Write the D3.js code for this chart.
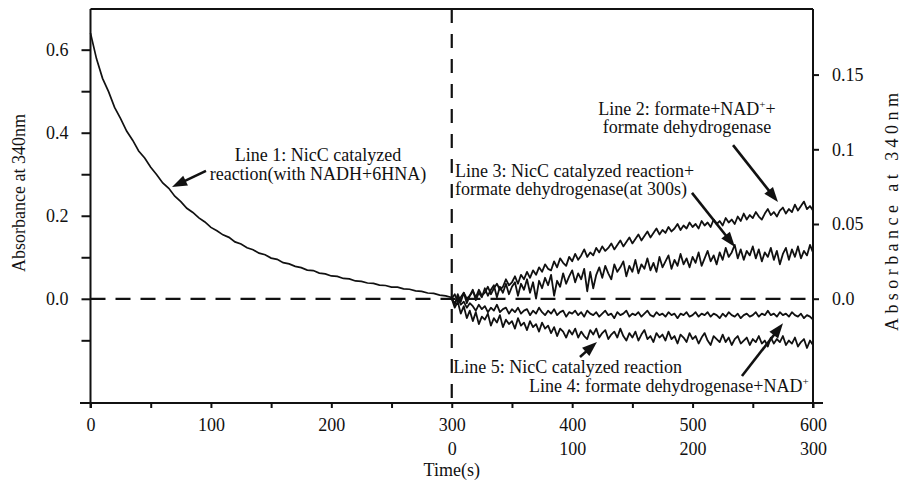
<!DOCTYPE html>
<html><head><meta charset="utf-8">
<script src="https://cdn.jsdelivr.net/npm/d3@7"></script>
<style>
body{margin:0;background:#fff}
svg{display:block}
svg text{font-family:"Liberation Serif","DejaVu Serif","Times New Roman",serif !important;fill:#111;font-size:18px}
</style>
</head><body><svg id="c" width="903" height="484" font-family="Liberation Serif, DejaVu Serif, serif"></svg>
<script>
// ---- DATA ----
const timeLeft = d3.range(0, 301, 5);            // s, Line 1 (0-300 s)
const line1 = [0.640,0.578,0.531,0.499,0.461,0.434,0.404,0.382,0.356,0.339,
0.317,0.299,0.279,0.266,0.247,0.234,0.218,0.208,0.195,0.185,
0.172,0.164,0.154,0.148,0.137,0.132,0.123,0.118,0.110,0.106,
0.098,0.095,0.087,0.084,0.078,0.075,0.069,0.068,0.062,0.060,
0.055,0.054,0.049,0.048,0.043,0.042,0.038,0.037,0.033,0.032,
0.028,0.028,0.024,0.023,0.019,0.018,0.014,0.013,0.009,0.007,0.003];

const timeRight = d3.range(0, 300.1, 2.5);       // s on secondary axis (0-300)
const line2 = [0.000,0.003,-0.002,0.001,0.004,0.000,0.002,0.005,0.001,0.006,
0.002,0.004,0.008,0.003,0.007,0.010,0.006,0.008,0.013,0.009,
0.011,0.015,0.010,0.016,0.013,0.018,0.014,0.019,0.016,0.021,
0.018,0.023,0.020,0.019,0.025,0.021,0.027,0.024,0.022,0.028,
0.025,0.030,0.026,0.029,0.033,0.028,0.031,0.029,0.034,0.031,
0.035,0.032,0.034,0.037,0.033,0.036,0.039,0.035,0.038,0.041,
0.037,0.040,0.043,0.039,0.042,0.045,0.041,0.044,0.047,0.043,
0.046,0.044,0.048,0.045,0.047,0.050,0.046,0.049,0.047,0.051,
0.048,0.050,0.047,0.052,0.049,0.051,0.048,0.053,0.050,0.052,
0.049,0.054,0.051,0.053,0.050,0.055,0.052,0.057,0.053,0.056,
0.054,0.058,0.055,0.053,0.057,0.060,0.056,0.058,0.055,0.059,
0.061,0.057,0.060,0.058,0.063,0.059,0.062,0.065,0.060,0.062,0.059];
const line3 = [0.000,-0.004,0.003,-0.002,0.004,-0.003,0.002,0.006,-0.001,0.004,
0.001,0.007,0.002,0.006,0.009,0.001,0.008,0.004,0.010,0.003,
0.008,0.011,0.002,0.010,0.006,0.013,0.004,0.011,0.000,0.012,
0.007,0.014,0.009,0.016,0.002,0.012,0.008,0.017,0.010,0.015,
0.019,0.011,0.017,0.013,0.020,0.005,0.018,0.007,0.016,0.021,
0.014,0.022,0.017,0.013,0.023,0.018,0.021,0.025,0.015,0.022,
0.018,0.026,0.017,0.023,0.020,0.027,0.019,0.024,0.018,0.028,
0.021,0.025,0.029,0.020,0.026,0.022,0.030,0.023,0.027,0.021,
0.028,0.024,0.031,0.022,0.027,0.032,0.025,0.029,0.023,0.031,
0.026,0.034,0.028,0.031,0.036,0.027,0.033,0.026,0.032,0.029,
0.035,0.027,0.033,0.025,0.031,0.028,0.034,0.026,0.032,0.023,
0.030,0.034,0.026,0.033,0.028,0.035,0.027,0.032,0.029,0.036,0.031];
const line4 = [0.000,-0.003,0.001,-0.004,-0.002,-0.006,-0.003,-0.005,-0.008,-0.004,
-0.007,-0.005,-0.009,-0.006,-0.008,-0.004,-0.009,-0.007,-0.006,-0.010,
-0.007,-0.009,-0.006,-0.010,-0.008,-0.007,-0.011,-0.008,-0.010,-0.006,
-0.009,-0.011,-0.008,-0.010,-0.007,-0.011,-0.009,-0.008,-0.012,-0.009,
-0.010,-0.008,-0.011,-0.009,-0.012,-0.008,-0.010,-0.011,-0.009,-0.012,
-0.010,-0.008,-0.011,-0.010,-0.013,-0.009,-0.011,-0.010,-0.008,-0.012,
-0.010,-0.011,-0.009,-0.012,-0.010,-0.008,-0.011,-0.012,-0.009,-0.011,
-0.010,-0.012,-0.009,-0.011,-0.010,-0.013,-0.010,-0.011,-0.009,-0.012,
-0.011,-0.009,-0.012,-0.010,-0.011,-0.009,-0.012,-0.010,-0.011,-0.013,
-0.010,-0.012,-0.009,-0.011,-0.012,-0.010,-0.013,-0.011,-0.010,-0.012,
-0.011,-0.009,-0.012,-0.010,-0.011,-0.008,-0.011,-0.010,-0.012,-0.009,
-0.011,-0.010,-0.012,-0.009,-0.011,-0.012,-0.010,-0.013,-0.011,-0.012,-0.014];
const line5 = [0.000,-0.006,-0.002,-0.010,-0.005,-0.013,-0.008,-0.015,-0.009,-0.017,
-0.012,-0.014,-0.010,-0.018,-0.013,-0.016,-0.011,-0.019,-0.014,-0.017,
-0.015,-0.020,-0.013,-0.018,-0.016,-0.021,-0.015,-0.019,-0.017,-0.022,
-0.016,-0.020,-0.018,-0.023,-0.019,-0.025,-0.020,-0.022,-0.026,-0.021,
-0.024,-0.020,-0.026,-0.022,-0.025,-0.027,-0.021,-0.024,-0.020,-0.026,
-0.023,-0.021,-0.027,-0.024,-0.022,-0.026,-0.020,-0.025,-0.028,-0.023,
-0.026,-0.022,-0.028,-0.024,-0.021,-0.027,-0.025,-0.029,-0.023,-0.026,
-0.024,-0.028,-0.022,-0.027,-0.025,-0.030,-0.024,-0.026,-0.029,-0.023,
-0.027,-0.025,-0.030,-0.026,-0.023,-0.028,-0.031,-0.025,-0.027,-0.029,
-0.024,-0.029,-0.026,-0.031,-0.027,-0.025,-0.030,-0.028,-0.026,-0.031,
-0.027,-0.029,-0.025,-0.030,-0.028,-0.032,-0.026,-0.030,-0.027,-0.029,
-0.025,-0.031,-0.028,-0.030,-0.026,-0.032,-0.029,-0.027,-0.033,-0.028,-0.031];

const xTicks = d3.range(0, 601, 50);
const xLabels = [0,100,200,300,400,500,600];
const x2Labels = [0,100,200,300];
const leftTicks = [-0.1,0,0.1,0.2,0.3,0.4,0.5,0.6];
const leftLabels = [0,0.2,0.4,0.6];
const rightTicks = [0,0.05,0.1,0.15];
const rightTickText = ["0.0","0.05","0.1","0.15"];
const axisTitle = "Absorbance at 340nm";
const xTitle = "Time(s)";

// annotations in (time on primary axis, left-axis value) space
const labels = [
  {lines:["Line 1: NicC catalyzed","reaction(with NADH+6HNA)"], t:188.9, v:[0.332,0.286], anchor:"middle"},
  {lines:["Line 2: formate+NAD^++","formate dehydrogenase"], t:495.3, v:[0.443,0.400], anchor:"middle"},
  {lines:["Line 3: NicC catalyzed reaction+","formate dehydrogenase(at 300s)"], t:302.7, v:[0.293,0.250], anchor:"start"},
  {lines:["Line 5: NicC catalyzed reaction"], t:301.2, v:[-0.178], anchor:"start"},
  {lines:["Line 4: formate dehydrogenase+NAD^+"], t:364.1, v:[-0.225], anchor:"start"}
];
const arrows = [
  {from:[95.9,0.308], to:[67.7,0.269]},
  {from:[533.6,0.370], to:[570.9,0.233]},
  {from:[499.5,0.255], to:[535.2,0.125]},
  {from:[541.0,-0.186], to:[575.1,-0.059]},
  {from:[406.5,-0.140], to:[420.6,-0.104]}
];

// ---- CHART ----
const FONT = '"Liberation Serif","DejaVu Serif","Times New Roman",serif';
const svg = d3.select("#c");
const x = d3.scaleLinear().domain([0,600]).range([90.5,813]);
const x2 = d3.scaleLinear().domain([0,300]).range([x(300), x(600)]);
const yL = d3.scaleLinear().domain([-0.251,0.698]).range([403,9]);
const yR = d3.scaleLinear().domain([-0.0698,0.1939]).range([403,9]);

// zero dashed line and 300 s dashed line
svg.append("line").attr("x1",x(0)).attr("x2",x(600)).attr("y1",yL(0)).attr("y2",yL(0))
  .attr("stroke","#111").attr("stroke-width",2.2).attr("stroke-dasharray","15,10");
svg.append("line").attr("x1",x(300)).attr("x2",x(300)).attr("y1",yL(0.698)).attr("y2",yL(-0.251))
  .attr("stroke","#111").attr("stroke-width",2.2).attr("stroke-dasharray","14,11");

// data lines
const lineL = d3.line().x((d,i)=>x(timeLeft[i])).y(d=>yL(d));
svg.append("path").attr("d",lineL(line1)).attr("fill","none").attr("stroke","#111").attr("stroke-width",1.7);
const lineR = d3.line().x((d,i)=>x2(timeRight[i])).y(d=>yR(d));
[line2,line3,line4,line5].forEach(s=>{
  svg.append("path").attr("d",lineR(s.slice(0,timeRight.length))).attr("fill","none")
    .attr("stroke","#111").attr("stroke-width",1.8).attr("stroke-linejoin","round");
});

// frame
const stroke = (x1,y1,x2_,y2)=>svg.append("line").attr("x1",x1).attr("y1",y1).attr("x2",x2_).attr("y2",y2)
  .attr("stroke","#111").attr("stroke-width",2);
stroke(x(0),9,x(600),9);
stroke(x(0),9,x(0),408);
stroke(x(600),9,x(600),408);
stroke(80,403,823,403);

function styleAxis(g){
  g.attr("font-family",FONT);
  g.select(".domain").remove();
  g.selectAll("line").attr("stroke","#111").attr("stroke-width",2);
  g.selectAll("text").style("font-family",FONT).style("font-size","18px").attr("fill","#111");
}
// left axis
const gL = svg.append("g").attr("transform",`translate(${x(0)},0)`)
  .call(d3.axisLeft(yL).tickValues(leftTicks).tickSize(9).tickPadding(13)
    .tickFormat(d=>leftLabels.some(l=>Math.abs(l-d)<1e-9)?d3.format(".1f")(d):""));
styleAxis(gL);

// right axis
const gR = svg.append("g").attr("transform",`translate(${x(600)},0)`)
  .call(d3.axisRight(yR).tickValues(rightTicks).tickSize(6).tickPadding(13)
    .tickFormat((d,i)=>rightTickText[i]));
styleAxis(gR);

// bottom axis
const gB = svg.append("g").attr("transform","translate(0,403)")
  .call(d3.axisBottom(x).tickValues(xTicks).tickSize(5)
    .tickFormat(d=>xLabels.includes(d)?String(d):""));
styleAxis(gB);
gB.selectAll("text").attr("y",28).attr("dy",0);

const gB2 = svg.append("g").attr("transform","translate(0,403)")
  .call(d3.axisBottom(x2).tickValues(x2Labels).tickSize(0).tickFormat(d=>String(d)));
styleAxis(gB2);
gB2.selectAll("line").remove();
gB2.selectAll("text").attr("y",52).attr("dy",0);

svg.append("text").attr("x",x(300)).attr("y",476).attr("text-anchor","middle")
  .style("font-family",FONT).text(xTitle);

// axis titles
svg.append("text").attr("transform",`translate(25,${yL(0.255)}) rotate(-90)`)
  .attr("text-anchor","middle").style("font-family",FONT).style("font-size","18px").text(axisTitle);
svg.append("text").attr("transform",`translate(898,${yR(0.058)}) rotate(-90)`)
  .attr("text-anchor","middle").style("font-family",FONT).style("font-size","18px")
  .attr("textLength",238).attr("lengthAdjust","spacing").text(axisTitle);

// annotation text
labels.forEach(a=>{
  a.lines.forEach((ln,k)=>{
    const t = svg.append("text").attr("x",x(a.t)).attr("y",yL(a.v[k])).attr("text-anchor",a.anchor)
      .style("font-family",FONT);
    const parts = ln.split("^+");
    parts.forEach((p,j)=>{
      const ts = t.append("tspan").text(p);
      if(j>0) ts.attr("dy",7);
      if(j<parts.length-1){
        t.append("tspan").attr("dy",-7).style("font-size","11px").text("+");
      }
    });
  });
});

// arrows
arrows.forEach(a=>{
  const x1=x(a.from[0]), y1=yL(a.from[1]), x2p=x(a.to[0]), y2p=yL(a.to[1]);
  const dx=x2p-x1, dy=y2p-y1, L=Math.hypot(dx,dy), ux=dx/L, uy=dy/L;
  const hl=15, hw=5.5;
  svg.append("line").attr("x1",x1).attr("y1",y1).attr("x2",x2p-ux*(hl-3)).attr("y2",y2p-uy*(hl-3))
    .attr("stroke","#111").attr("stroke-width",2.6);
  const bx=x2p-ux*hl, by=y2p-uy*hl;
  svg.append("polygon").attr("points",[[x2p,y2p],[bx-uy*hw,by+ux*hw],[bx+uy*hw,by-ux*hw]].map(p=>p.join(",")).join(" "))
    .attr("fill","#111");
});
</script></body></html>
